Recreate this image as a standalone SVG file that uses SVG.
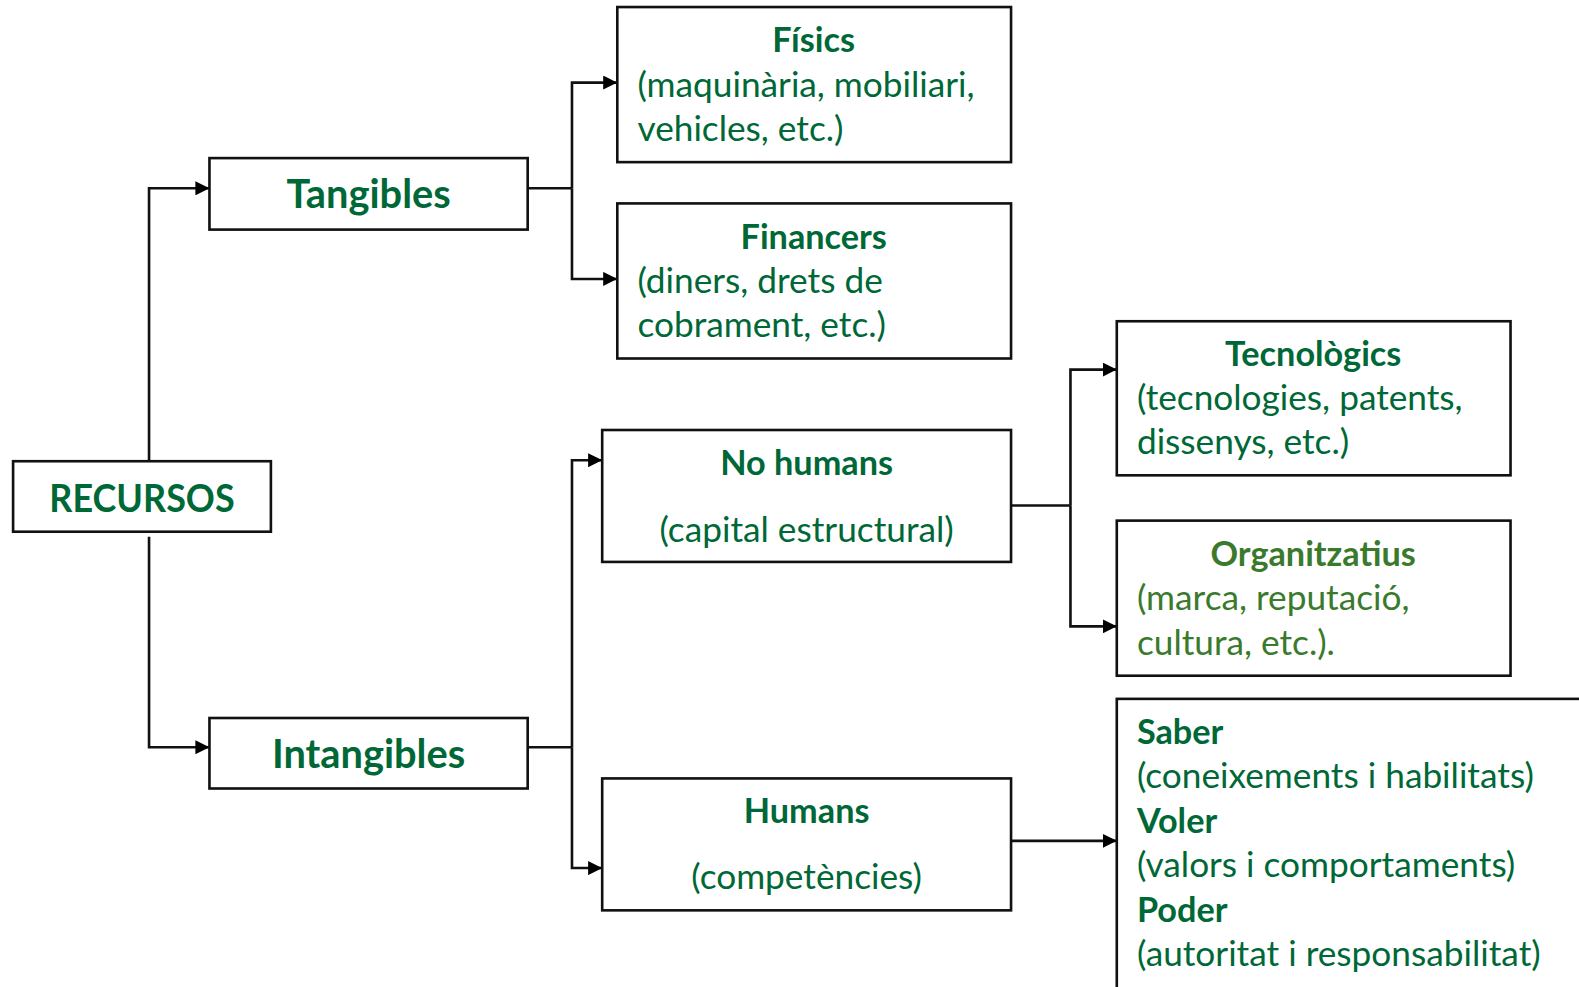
<svg xmlns="http://www.w3.org/2000/svg" width="1579" height="987" viewBox="0 0 1579 987">
  <defs>
    <marker id="arrow" viewBox="0 0 10 10" refX="10" refY="5" markerWidth="14" markerHeight="14" markerUnits="userSpaceOnUse" orient="auto">
      <path d="M0,0 L10,5 L0,10 Z" fill="#000"/>
    </marker>
    <style>
      .box { fill: #fff; stroke: #111; stroke-width: 2.6; }
      .wire { fill: none; stroke: #111; stroke-width: 2.6; }
      .arr { marker-end: url(#arrow); }
      text { font-family: "Lato", "Liberation Sans", sans-serif; fill: #006837; }
      .big { font-size: 39.5px; font-weight: bold; text-anchor: middle; }
      .head { font-size: 34px; font-weight: bold; }
      .mid { text-anchor: middle; }
      .body { font-size: 35px; }
      .org { fill: #3a7a2c; }
    </style>
  </defs>
  <rect width="1579" height="987" fill="#fff"/>
  <g transform="scale(1.00702)">
    <!-- connectors -->
    <g id="connectors">
      <path class="wire arr" d="M148,458 V187 H208"/>
      <path class="wire arr" d="M148,533 V742 H208"/>
      <path class="wire" d="M524,187 H568"/>
      <path class="wire arr" d="M568,187 V82 H613"/>
      <path class="wire arr" d="M568,187 V277 H613"/>
      <path class="wire" d="M524,742 H568"/>
      <path class="wire arr" d="M568,742 V457 H598"/>
      <path class="wire arr" d="M568,742 V862 H598"/>
      <path class="wire" d="M1004,502 H1063"/>
      <path class="wire arr" d="M1063,502 V367 H1109"/>
      <path class="wire arr" d="M1063,502 V622 H1109"/>
      <path class="wire arr" d="M1004,835 H1109"/>
    </g>

    <g id="recursos">
      <rect class="box" x="13" y="458" width="256" height="70"/>
      <text class="big" x="141" y="508" style="font-size:38px" textLength="184" lengthAdjust="spacingAndGlyphs">RECURSOS</text>
    </g>
    <g id="tangibles">
      <rect class="box" x="208" y="157" width="316" height="71"/>
      <text class="big" x="366" y="207">Tangibles</text>
    </g>
    <g id="intangibles">
      <rect class="box" x="208" y="713" width="316" height="70"/>
      <text class="big" x="366" y="763">Intangibles</text>
    </g>
    <g id="fisics">
      <rect class="box" x="613" y="7" width="391" height="154"/>
      <text class="head mid" x="808" y="52">Físics</text>
      <text class="body" x="633" y="96">(maquinària, mobiliari,</text>
      <text class="body" x="633" y="140">vehicles, etc.)</text>
    </g>
    <g id="financers">
      <rect class="box" x="613" y="202" width="391" height="154"/>
      <text class="head mid" x="808" y="247">Financers</text>
      <text class="body" x="633" y="291">(diners, drets de</text>
      <text class="body" x="633" y="335">cobrament, etc.)</text>
    </g>
    <g id="no-humans">
      <rect class="box" x="598" y="427" width="406" height="131"/>
      <text class="head mid" x="801" y="472">No humans</text>
      <text class="body mid" x="801" y="538">(capital estructural)</text>
    </g>
    <g id="humans">
      <rect class="box" x="598" y="773" width="406" height="131"/>
      <text class="head mid" x="801" y="817">Humans</text>
      <text class="body mid" x="801" y="883">(competències)</text>
    </g>
    <g id="tecnologics">
      <rect class="box" x="1109" y="319" width="391" height="153"/>
      <text class="head mid" x="1304" y="363">Tecnològics</text>
      <text class="body" x="1129" y="407">(tecnologies, patents,</text>
      <text class="body" x="1129" y="451">dissenys, etc.)</text>
    </g>
    <g id="organitzatius">
      <rect class="box" x="1109" y="517" width="391" height="154"/>
      <text class="head mid org" x="1304" y="562">Organitzatius</text>
      <text class="body org" x="1129" y="606">(marca, reputació,</text>
      <text class="body org" x="1129" y="650">cultura, etc.).</text>
    </g>
    <g id="competencies">
      <rect class="box" x="1109" y="694" width="500" height="320"/>
      <text class="head" x="1129" y="739">Saber</text>
      <text class="body" x="1129" y="783">(coneixements i habilitats)</text>
      <text class="head" x="1129" y="827">Voler</text>
      <text class="body" x="1129" y="871">(valors i comportaments)</text>
      <text class="head" x="1129" y="916">Poder</text>
      <text class="body" x="1129" y="959">(autoritat i responsabilitat)</text>
    </g>
  </g>
</svg>
